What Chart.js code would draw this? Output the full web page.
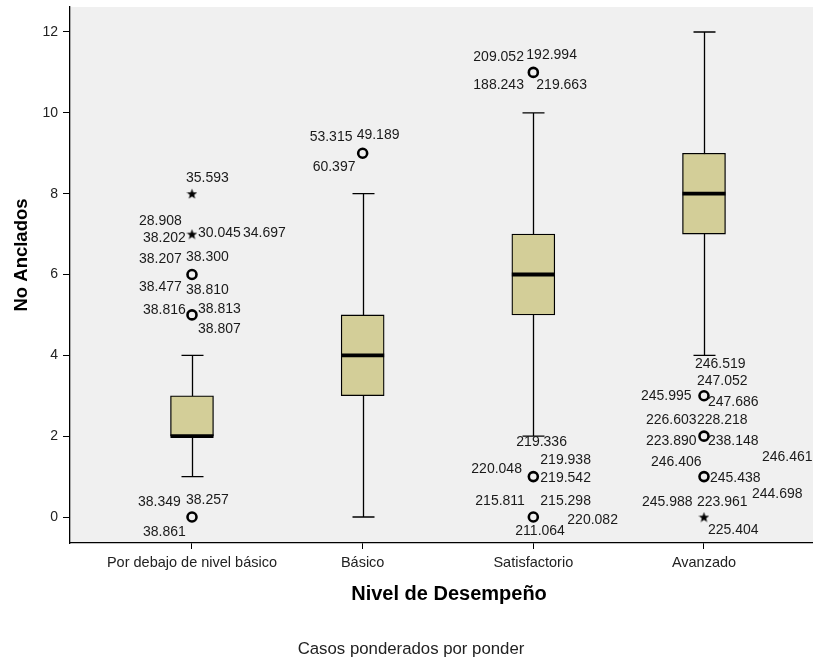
<!DOCTYPE html>
<html>
<head>
<meta charset="utf-8">
<script src="https://cdn.jsdelivr.net/npm/chart.js@4.4.0/dist/chart.umd.min.js"></script>
<style>
  html, body { margin: 0; padding: 0; background: #ffffff; }
  canvas { display: block; }
</style>
</head>
<body>
<canvas id="chart" width="813" height="666"></canvas>
<script>
// Performance levels (x categories)
const categories = ['Por debajo de nivel básico', 'Básico', 'Satisfactorio', 'Avanzado'];
const categoryPositions = [1, 2, 3, 4];

// Box statistics for "No Anclados" per level
const q1Values = [2, 3, 5, 7];
const medianValues = [2, 4, 6, 8];
const q3Values = [3, 5, 7, 9];
const whiskerLow = [1, 0, 2, 4];
const whiskerHigh = [4, 8, 10, 12];

// Outliers (circles)
const outlierCategory = [1, 1, 1, 2, 3, 3, 3, 4, 4, 4];
const outlierValue    = [6, 5, 0, 9, 11, 1, 0, 3, 2, 1];
const outlierCases = [
  ['38.207', '38.300', '38.477', '38.810'],
  ['38.816', '38.813', '38.807'],
  ['38.349', '38.257', '38.861'],
  ['53.315', '49.189', '60.397'],
  ['209.052', '192.994', '188.243', '219.663'],
  ['219.336', '220.048', '219.938', '219.542'],
  ['215.811', '215.298', '220.082', '211.064'],
  ['246.519', '247.052', '245.995', '247.686'],
  ['226.603', '228.218', '223.890', '238.148'],
  ['246.406', '245.438', '246.461']
];

// Extreme values (stars)
const extremeCategory = [1, 1, 4];
const extremeValue    = [8, 7, 0];
const extremeCases = [
  ['35.593'],
  ['28.908', '38.202', '30.045', '34.697'],
  ['245.988', '223.961', '244.698', '225.404']
];

// Case-label placement around each mark: [left edge dx, middle dy] in px
const outlierLabelOffsets = [
  [[-53, -15], [-6, -17], [-53, 13], [-6, 16]],
  [[-49, -5], [6, -6], [6, 14]],
  [[-54, -15], [-6, -17], [-49, 15]],
  [[-53, -16], [-6, -18], [-50, 14]],
  [[-60, -15], [-7, -17], [-60, 13], [3, 13]],
  [[-17, -34], [-62, -7], [7, -16], [7, 2]],
  [[-58, -16], [7, -16], [34, 3], [-18, 14]],
  [[-9, -32], [-7, -15], [-63, 0], [4, 6]],
  [[-58, -16], [-7, -16], [-58, 5], [4, 5]],
  [[-53, -14], [6, 2], [58, -19]]
];
const extremeLabelOffsets = [
  [[-6, -16]],
  [[-53, -13], [-49, 4], [6, -1], [51, -1]],
  [[-62, -15], [-7, -15], [48, -23], [4, 13]]
];

const BOX_FILL = 'rgb(211,206,152)';
const PLOT_BG = '#f0f0f0';
const FONT = '"Liberation Sans", Arial, sans-serif';

// Filled five-point star used for extreme values
function makeStar(size) {
  const c = document.createElement('canvas');
  c.width = size; c.height = size;
  const g = c.getContext('2d');
  const cx = size / 2, cy = size / 2 + 0.5, R = size / 2, r = R * 0.42;
  g.beginPath();
  for (let i = 0; i < 10; i++) {
    const rad = (i % 2 === 0) ? R : r;
    const a = -Math.PI / 2 + i * Math.PI / 5;
    const px = cx + rad * Math.cos(a), py = cy + rad * Math.sin(a);
    if (i === 0) g.moveTo(px, py); else g.lineTo(px, py);
  }
  g.closePath();
  g.fillStyle = '#000';
  g.fill();
  return c;
}
const starImg = makeStar(11);

const boxData = categoryPositions.map((x, i) => ({ x: x, y: [q1Values[i], q3Values[i]] }));
const outlierData = outlierValue.map((v, i) => ({ x: outlierCategory[i], y: v }));
const extremeData = extremeValue.map((v, i) => ({ x: extremeCategory[i], y: v }));

const boxPlotPlugin = {
  id: 'boxPlot',
  beforeDraw(chart) {
    const { ctx, chartArea: a } = chart;
    ctx.save();
    ctx.fillStyle = PLOT_BG;
    ctx.fillRect(a.left, a.top, a.right - a.left, a.bottom - a.top);
    ctx.restore();
  },
  beforeDatasetsDraw(chart) {
    const { ctx, scales: { x, y } } = chart;
    ctx.save();
    ctx.strokeStyle = '#000';
    ctx.lineWidth = 1.3;
    categoryPositions.forEach((c, i) => {
      const px = Math.round(x.getPixelForValue(c)) + 0.5;
      const lo = y.getPixelForValue(whiskerLow[i]);
      const hi = y.getPixelForValue(whiskerHigh[i]);
      ctx.beginPath();
      ctx.moveTo(px, lo); ctx.lineTo(px, hi);
      ctx.moveTo(px - 11, lo); ctx.lineTo(px + 11, lo);
      ctx.moveTo(px - 11, hi); ctx.lineTo(px + 11, hi);
      ctx.stroke();
    });
    ctx.restore();
  },
  afterDatasetsDraw(chart) {
    const { ctx, scales: { x, y } } = chart;
    ctx.save();
    // medians
    ctx.strokeStyle = '#000';
    ctx.lineWidth = 3.8;
    categoryPositions.forEach((c, i) => {
      const px = x.getPixelForValue(c);
      const py = y.getPixelForValue(medianValues[i]);
      ctx.beginPath();
      ctx.moveTo(px - 21.5, py); ctx.lineTo(px + 21.5, py);
      ctx.stroke();
    });
    // case labels
    ctx.font = '14px ' + FONT;
    ctx.fillStyle = '#1a1a1a';
    ctx.textAlign = 'left';
    ctx.textBaseline = 'middle';
    const drawLabels = (cats, vals, cases, offsets) => {
      vals.forEach((v, i) => {
        const px = x.getPixelForValue(cats[i]);
        const py = y.getPixelForValue(v);
        cases[i].forEach((t, j) => {
          const o = offsets[i][j];
          ctx.fillText(t, px + o[0], py + o[1]);
        });
      });
    };
    drawLabels(outlierCategory, outlierValue, outlierCases, outlierLabelOffsets);
    drawLabels(extremeCategory, extremeValue, extremeCases, extremeLabelOffsets);
    ctx.restore();
  },
  afterDraw(chart) {
    const { ctx } = chart;
    ctx.save();
    ctx.fillStyle = '#000';
    ctx.textAlign = 'center';
    ctx.textBaseline = 'middle';
    ctx.font = 'bold 20px ' + FONT;
    ctx.fillText('Nivel de Desempeño', 449, 594);
    ctx.font = 'bold 18.5px ' + FONT;
    ctx.save();
    ctx.translate(22, 255);
    ctx.rotate(-Math.PI / 2);
    ctx.fillText('No Anclados', 0, 0);
    ctx.restore();
    ctx.fillStyle = '#222';
    ctx.font = '16.8px ' + FONT;
    ctx.fillText('Casos ponderados por ponder', 411, 649);
    ctx.restore();
  }
};

new Chart(document.getElementById('chart'), {
  type: 'bar',
  data: {
    datasets: [
      {
        type: 'bar',
        data: boxData,
        backgroundColor: BOX_FILL,
        borderColor: '#000',
        borderWidth: 1.3,
        borderSkipped: false,
        barThickness: 43,
        order: 2
      },
      {
        type: 'scatter',
        data: outlierData,
        pointStyle: 'circle',
        pointRadius: 4.5,
        pointBorderWidth: 2.6,
        pointBorderColor: '#000',
        pointBackgroundColor: 'rgba(0,0,0,0)',
        order: 1
      },
      {
        type: 'scatter',
        data: extremeData,
        pointStyle: starImg,
        order: 1
      }
    ]
  },
  options: {
    responsive: false,
    animation: false,
    devicePixelRatio: 1,
    layout: { autoPadding: false, padding: { top: 7, right: 0, left: 0, bottom: 0 } },
    plugins: { legend: { display: false }, tooltip: { enabled: false } },
    scales: {
      x: {
        type: 'linear',
        min: 0.2852,
        max: 4.6387,
        offset: false,
        afterBuildTicks(scale) { scale.ticks = categoryPositions.map(v => ({ value: v })); },
        afterFit(scale) {
          scale.height = 123;
          scale.paddingLeft = 0;
          scale.paddingRight = 0;
        },
        ticks: {
          autoSkip: false,
          maxRotation: 0,
          padding: 5,
          color: '#222',
          font: { family: FONT, size: 14.5 },
          callback: (v) => categories[categoryPositions.indexOf(v)] || ''
        },
        grid: { offset: false, drawOnChartArea: false, drawTicks: true, tickLength: 6, color: '#000', lineWidth: 1 },
        border: { display: true, color: '#000', width: 1.3 }
      },
      y: {
        type: 'linear',
        min: -0.643,
        max: 12.618,
        afterBuildTicks(scale) { scale.ticks = [0, 2, 4, 6, 8, 10, 12].map(v => ({ value: v })); },
        afterFit(scale) {
          scale.width = 70;
          scale.paddingTop = 0;
          scale.paddingBottom = 0;
        },
        ticks: {
          padding: 5,
          color: '#222',
          font: { family: FONT, size: 14 }
        },
        grid: { drawOnChartArea: false, drawTicks: true, tickLength: 7, color: '#000', lineWidth: 1 },
        border: { display: true, color: '#000', width: 1.3 }
      }
    }
  },
  plugins: [boxPlotPlugin]
});
</script>
</body>
</html>
